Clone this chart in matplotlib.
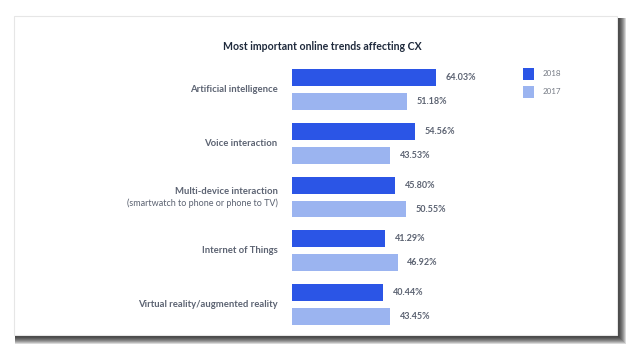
import matplotlib.pyplot as plt
from matplotlib.patches import Rectangle

categories = ["Artificial intelligence", "Voice interaction", "Multi-device interaction",
              "Internet of Things", "Virtual reality/augmented reality"]
subtitles = ["", "", "(smartwatch to phone or phone to TV)", "", ""]
values_2018 = [64.03, 54.56, 45.80, 41.29, 40.44]
values_2017 = [51.18, 43.53, 50.55, 46.92, 43.45]
series_names = ["2018", "2017"]

color_2018 = "#2b55e6"
color_2017 = "#9bb4f0"
label_color = "#5c6372"

plt.rcParams['font.family'] = ['Lato', 'DejaVu Sans']

W, H = 630, 351
fig = plt.figure(figsize=(W / 100, H / 100), dpi=100)
fig.patch.set_facecolor("white")

# card shadow (right and bottom only), then the card itself
for k in range(9):
    fig.patches.append(Rectangle((15 / W, 1 - (336 + k) / H), (603 + k) / W, (318 + k) / H,
                                 transform=fig.transFigure, facecolor="black",
                                 edgecolor="none", alpha=0.15, zorder=0))
fig.patches.append(Rectangle((14 / W, 1 - 335 / H), 603 / W, 319 / H,
                             transform=fig.transFigure, facecolor="white",
                             edgecolor="#e6e6e6", lw=0.8, zorder=1))

# bar axes: x scale ~2.25 px per percent
ax = fig.add_axes([292 / W, 1 - 333 / H, 200 / W, 271 / H])
ax.set_zorder(2)
ax.patch.set_alpha(0)
ax.set_xlim(0, 200 / 2.249)
ax.set_ylim(4.53, -0.512)
ax.axis("off")

n = len(categories)
y = list(range(n))
off = 0.223
bh = 0.316
ax.barh([i - off for i in y], values_2018, height=bh, color=color_2018, label=series_names[0])
ax.barh([i + off for i in y], values_2017, height=bh, color=color_2017, label=series_names[1])

for i in y:
    ax.annotate(f"{values_2018[i]:.2f}%", (values_2018[i], i - off), xytext=(7, 0),
                textcoords="offset points", ha="left", va="center", fontsize=6.5,
                fontweight="bold", color=label_color, annotation_clip=False)
    ax.annotate(f"{values_2017[i]:.2f}%", (values_2017[i], i + off), xytext=(7, 0),
                textcoords="offset points", ha="left", va="center", fontsize=6.5,
                fontweight="bold", color=label_color, annotation_clip=False)
    if subtitles[i]:
        ax.annotate(categories[i], (0, i), xytext=(-10.5, 4), textcoords="offset points",
                    ha="right", va="center", fontsize=6.8, fontweight="bold", color=label_color)
        ax.annotate(subtitles[i], (0, i), xytext=(-10.5, -4.2), textcoords="offset points",
                    ha="right", va="center", fontsize=6.5, color=label_color)
    else:
        ax.annotate(categories[i], (0, i), xytext=(-10.5, 0), textcoords="offset points",
                    ha="right", va="center", fontsize=6.8, fontweight="bold", color=label_color)

fig.text(322 / W, 1 - 46 / H, "Most important online trends affecting CX", ha="center",
         va="center", fontsize=7.6, fontweight="bold", color="#1f2a3c")

# legend
legend_colors = [color_2018, color_2017]
legend_y = [74, 92]
for name, c, ly in zip(series_names, legend_colors, legend_y):
    fig.patches.append(Rectangle((523 / W, 1 - (ly + 6) / H), 11 / W, 12 / H,
                                 transform=fig.transFigure, facecolor=c, zorder=3))
    fig.text(543 / W, 1 - ly / H, name, ha="left", va="center", fontsize=5.8, color="#777c86")

fig.savefig("out.png", dpi=100)
